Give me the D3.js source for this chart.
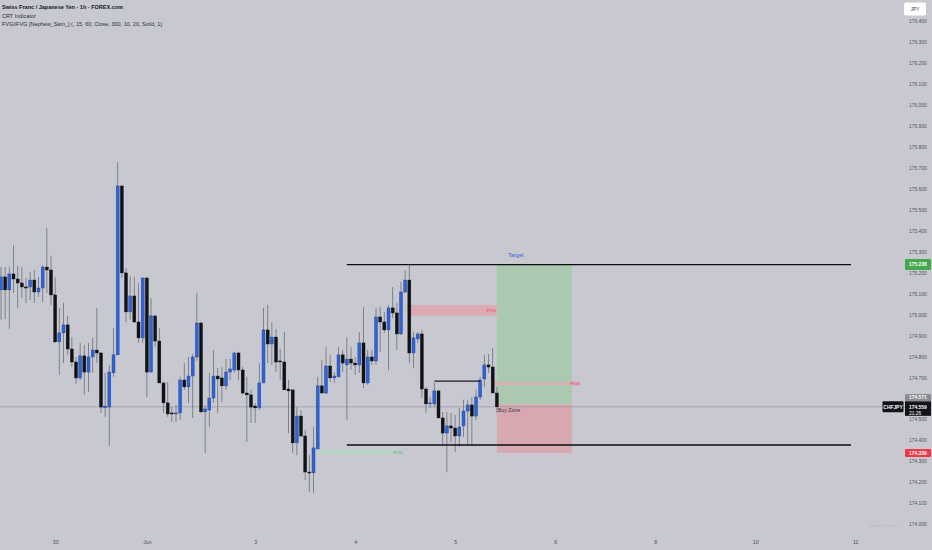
<!DOCTYPE html>
<html><head><meta charset="utf-8">
<script src="https://cdn.jsdelivr.net/npm/d3@7"></script>
<style>html,body{margin:0;padding:0;background:#c8c9d0;overflow:hidden}svg{display:block}</style>
</head><body><svg id="c" width="932" height="550"></svg>
<script>
// ---- data (CHF/JPY 1h) ----
const opens = [175.117,175.179,175.117,175.193,175.169,175.150,175.131,175.131,175.164,175.107,
175.126,175.226,175.212,175.093,174.869,174.912,174.950,174.835,174.773,174.697,
174.802,174.725,174.797,174.830,174.816,174.554,174.558,174.721,174.807,175.613,
175.198,175.012,175.088,174.964,174.888,175.174,174.725,174.993,174.873,174.673,
174.578,174.530,174.525,174.530,174.687,174.654,174.706,174.797,174.959,174.535,
174.544,174.601,174.706,174.697,174.659,174.725,174.735,174.816,174.735,174.625,
174.616,174.563,174.554,174.673,174.926,174.859,174.892,174.778,174.773,174.644,
174.640,174.387,174.515,174.420,174.248,174.244,174.358,174.659,174.625,174.754,
174.697,174.702,174.807,174.759,174.787,174.768,174.759,174.864,174.673,174.797,
174.778,174.988,174.964,174.926,175.031,175.007,174.907,175.107,175.164,174.816,
174.883,174.907,174.644,174.573,174.573,174.635,174.506,174.434,174.468,174.458,
174.420,174.468,174.539,174.568,174.515,174.606,174.692,174.759,174.749,174.625];
const highs = [175.226,175.226,175.226,175.331,175.231,175.226,175.174,175.203,175.212,175.179,
175.236,175.413,175.279,175.179,175.031,175.055,174.993,174.892,174.797,174.864,
174.854,174.864,174.888,175.031,174.821,174.721,174.759,174.935,175.727,175.613,
175.222,175.183,175.179,175.150,175.174,175.174,175.078,174.993,174.935,174.678,
174.678,174.558,174.568,174.702,174.768,174.797,174.811,175.102,174.964,174.568,
174.721,174.830,174.744,174.749,174.787,174.787,174.821,174.821,174.749,174.702,
174.640,174.578,174.768,175.031,175.045,174.964,174.931,174.835,174.916,174.687,
174.640,174.558,174.544,174.449,174.329,174.463,174.702,174.783,174.845,174.807,
174.725,174.845,174.830,174.892,174.845,174.797,174.916,175.036,174.830,174.830,
175.031,175.036,175.012,175.045,175.131,175.055,175.155,175.212,175.236,174.916,
174.916,174.926,174.654,174.606,174.673,174.640,174.535,174.535,174.530,174.520,
174.554,174.592,174.592,174.606,174.640,174.702,174.807,174.811,174.840,174.654];
const lows = [174.974,174.978,174.931,175.102,175.031,175.078,175.055,175.069,175.055,175.083,
175.059,175.102,175.045,174.864,174.711,174.768,174.807,174.749,174.668,174.687,
174.616,174.630,174.721,174.768,174.530,174.511,174.372,174.702,174.807,175.174,
174.964,174.974,174.959,174.864,174.864,174.606,174.725,174.845,174.673,174.530,
174.511,174.487,174.487,174.496,174.640,174.578,174.506,174.778,174.530,174.339,
174.463,174.578,174.530,174.582,174.640,174.687,174.721,174.687,174.616,174.391,
174.482,174.482,174.544,174.673,174.768,174.759,174.725,174.687,174.640,174.434,
174.339,174.329,174.415,174.210,174.153,174.148,174.358,174.625,174.620,174.678,
174.673,174.702,174.725,174.496,174.735,174.711,174.721,174.649,174.664,174.759,
174.759,174.821,174.912,174.735,174.983,174.830,174.902,175.102,174.768,174.744,
174.864,174.601,174.530,174.554,174.558,174.506,174.377,174.248,174.387,174.344,
174.368,174.415,174.377,174.377,174.496,174.592,174.654,174.721,174.625,174.530];
const closes = [175.179,175.117,175.193,175.169,175.150,175.131,175.126,175.164,175.107,175.126,
175.226,175.212,175.093,174.869,174.912,174.950,174.835,174.773,174.697,174.802,
174.725,174.797,174.830,174.816,174.558,174.563,174.725,174.807,175.613,175.198,
175.012,175.088,174.964,174.888,175.174,174.725,174.993,174.873,174.673,174.578,
174.525,174.525,174.530,174.687,174.654,174.706,174.797,174.959,174.535,174.549,
174.601,174.706,174.692,174.659,174.725,174.740,174.816,174.735,174.625,174.616,
174.558,174.554,174.673,174.926,174.859,174.892,174.773,174.773,174.640,174.635,
174.387,174.515,174.420,174.248,174.244,174.363,174.659,174.625,174.754,174.697,
174.706,174.807,174.768,174.787,174.768,174.759,174.864,174.673,174.797,174.778,
174.988,174.964,174.926,175.031,175.007,174.907,175.107,175.164,174.816,174.888,
174.907,174.644,174.573,174.578,174.635,174.506,174.434,174.468,174.458,174.420,
174.463,174.539,174.568,174.515,174.606,174.687,174.759,174.749,174.625,174.559];

const timeTickBars = [13,35,61,85,109,133,157,181,205];
const timeTickLabels = ["30","Jun","3","4","5","6","8","10","11"];
const priceTickValues = [174.0,174.1,174.2,174.3,174.4,174.5,174.7,174.8,174.9,175.0,175.1,175.2,175.3,175.4,175.5,175.6,175.7,175.8,175.9,176.0,176.1,176.2,176.3,176.4];

const crtHigh = 175.238, crtLow = 174.377;
const crtBars = [83, 204];
const crtMid = {from:104, to:115, price:174.682};
const fvgZones = [
  {from:98, to:119, top:175.045, bottom:174.993, kind:"bear"},
  {from:119, to:139, top:174.679, bottom:174.660, kind:"bear"},
  {from:76, to:94, top:174.353, bottom:174.334, kind:"bull"}
];
const trade = {from:119, to:137, entry:174.571, target:175.238, stop:174.339};
const lastPrice = 174.559, countdown = "21:26";
const headerLines = ["Swiss Franc / Japanese Yen \u00b7 1h \u00b7 FOREX.com","CRT Indicator","FVG/iFVG [Nephew_Sam_] (, 15, 60, Close, 300, 10, 20, Solid, 1)"];

// ---- drawing ----
const W = 932, H = 550, plotRight = 893;
const svg = d3.select("#c");
const FONT = "'Liberation Sans', Arial, sans-serif";
svg.append("rect").attr("width",W).attr("height",H).attr("fill","#c8c9d0");

const x = d3.scaleLinear().domain([0,214]).range([1, 892.7]);
const y = d3.scaleLinear().domain([174.0,176.4]).range([524,21]);
const bw = 3.0;

const plot = svg.append("g");

// FVG zones
fvgZones.forEach((z,k)=>{
  const bear = z.kind==="bear";
  plot.append("rect").attr("x",x(z.from)-(bear?2:0)).attr("y",y(z.top))
    .attr("width",x(z.to)-x(z.from)+(bear?2:0)).attr("height",y(z.bottom)-y(z.top))
    .attr("fill",bear?"#dcaab2":"#b3d7c0").attr("opacity",bear?1:0.9);
  if (k!==1) plot.append("text").attr("x",x(z.to)+(bear?-1:0.5)).attr("y",(y(z.top)+y(z.bottom))/2+1.5)
    .attr("text-anchor",bear?"end":"start").attr("font-family",FONT).attr("font-size",4.4)
    .attr("fill",bear?"#e8434f":"#27c46a").text("FVG");
});

// trade boxes
plot.append("rect").attr("x",x(trade.from)).attr("y",y(trade.target))
  .attr("width",x(trade.to)-x(trade.from)).attr("height",y(trade.entry)-y(trade.target)).attr("fill","#abc8b1");
plot.append("rect").attr("x",x(trade.from)).attr("y",y(trade.entry))
  .attr("width",x(trade.to)-x(trade.from)).attr("height",y(trade.stop)-y(trade.entry)).attr("fill","#d8a8b1");
// thin FVG band over green box
{
  const z = fvgZones[1];
  plot.append("rect").attr("x",x(z.from)).attr("y",y(z.top)).attr("width",x(z.to)-x(z.from))
    .attr("height",y(z.bottom)-y(z.top)).attr("fill","#d6b1b6").attr("opacity",0.8);
  plot.append("text").attr("x",x(z.to)-1).attr("y",(y(z.top)+y(z.bottom))/2+1.5)
    .attr("text-anchor","end").attr("font-family",FONT).attr("font-size",4.4).attr("fill","#e8434f").text("FVG");
}

// last price line
plot.append("line").attr("x1",0).attr("x2",plotRight+12).attr("y1",y(lastPrice)).attr("y2",y(lastPrice))
  .attr("stroke","#8e9097").attr("stroke-width",0.6);

// candles
const idx = d3.range(opens.length);
const cg = plot.append("g");
cg.selectAll("line.w").data(idx).join("line").attr("class","w")
  .attr("x1",i=>x(i)).attr("x2",i=>x(i)).attr("y1",i=>y(highs[i])).attr("y2",i=>y(lows[i]))
  .attr("stroke","#6c6f77").attr("stroke-width",0.8);
cg.selectAll("rect.b").data(idx).join("rect").attr("class","b")
  .attr("x",i=>x(i)-bw/2).attr("width",bw)
  .attr("y",i=>y(Math.max(opens[i],closes[i])))
  .attr("height",i=>Math.max(1,Math.abs(y(opens[i])-y(closes[i]))))
  .attr("fill",i=>closes[i]>=opens[i]?"#2f63d8":"#111216")
  .attr("stroke",i=>closes[i]>=opens[i]?"#23408f":"#111216").attr("stroke-width",0.4);

// CRT lines
[crtHigh, crtLow].forEach(p=>{
  plot.append("line").attr("x1",x(crtBars[0])).attr("x2",x(crtBars[1])).attr("y1",y(p)).attr("y2",y(p))
    .attr("stroke","#0d0d10").attr("stroke-width",1.3);
});
plot.append("line").attr("x1",x(crtMid.from)).attr("x2",x(crtMid.to)).attr("y1",y(crtMid.price)).attr("y2",y(crtMid.price))
  .attr("stroke","#1a1b20").attr("stroke-width",1.2);

// texts on trade
plot.append("text").attr("x",x(trade.from)+19).attr("y",y(trade.target)-8).attr("text-anchor","middle")
  .attr("font-family",FONT).attr("font-size",5.6).attr("fill","#2f62e0").text("Target");
plot.append("text").attr("x",x(trade.from)+1).attr("y",y(trade.entry)+7.5)
  .attr("font-family",FONT).attr("font-size",5.2).attr("fill","#3b3440").text("Buy Zone");

// header
headerLines.forEach((t,i)=>{
  svg.append("text").attr("x",2).attr("y",9.2+i*8.5).attr("font-family",FONT)
    .attr("font-size",5.5).attr("font-weight",i===0?700:400).attr("fill",i===0?"#131722":"#2a2d35").text(t);
});

// watermark
svg.append("text").attr("x",883).attr("y",527).attr("text-anchor","middle").attr("font-family",FONT)
  .attr("font-size",4.2).attr("fill","#b7b8bf").text("Nephew_Sam_");

// time axis
const xAxis = d3.axisBottom(x).tickValues(timeTickBars).tickFormat((d,i)=>timeTickLabels[i]).tickSize(0).tickPadding(0);
const gx = svg.append("g").attr("transform","translate(0,544)").call(xAxis);
gx.select(".domain").remove();
gx.selectAll("text").attr("y",0).attr("dy",0).attr("font-family",FONT).attr("font-size",5.2).attr("fill","#4a4d56");

// price axis
const yAxis = d3.axisRight(y).tickValues(priceTickValues).tickFormat(d3.format(".3f")).tickSize(0).tickPadding(0);
const gy = svg.append("g").attr("transform","translate(909,0)").call(yAxis);
gy.select(".domain").remove();
gy.selectAll("text").attr("x",0).attr("dy","0.35em").attr("font-family",FONT).attr("font-size",4.9).attr("fill","#4f525b");

// badges
function badge(cy, label, fill, h){
  const g = svg.append("g");
  g.append("rect").attr("x",905).attr("y",cy-h/2).attr("width",26).attr("height",h).attr("rx",1).attr("fill",fill);
  g.append("text").attr("x",909).attr("y",cy).attr("dy","0.35em").attr("font-family",FONT).attr("font-size",4.9)
    .attr("font-weight",600).attr("fill","#fff").text(label);
}
// JPY
svg.append("rect").attr("x",904).attr("y",2.5).attr("width",22).attr("height",13).attr("rx",2).attr("fill","#ffffff");
svg.append("text").attr("x",915).attr("y",9).attr("dy","0.35em").attr("text-anchor","middle").attr("font-family",FONT)
  .attr("font-size",5).attr("fill","#3a3d45").text("JPY");

const f3 = d3.format(".3f");
badge(y(trade.target), f3(trade.target), "#45a84c", 11);
badge(y(trade.stop), f3(trade.stop), "#f23645", 8);
// entry badge is pushed up above the last-price badge (as the reference shows)
const lpY = y(lastPrice);
badge(lpY-9.3, f3(trade.entry), "#8a8c93", 7.2);
{
  svg.append("rect").attr("x",905).attr("y",lpY-5.5).attr("width",26).attr("height",14.5).attr("fill","#121318");
  svg.append("text").attr("x",909).attr("y",lpY).attr("dy","0.35em").attr("font-family",FONT).attr("font-size",4.9)
    .attr("font-weight",600).attr("fill","#fff").text(f3(lastPrice));
  svg.append("text").attr("x",909).attr("y",lpY+6).attr("dy","0.35em").attr("font-family",FONT).attr("font-size",4.9)
    .attr("fill","#fff").text(countdown);
  svg.append("rect").attr("x",882.5).attr("y",lpY-5.5).attr("width",21).attr("height",11).attr("rx",1).attr("fill","#121318");
  svg.append("text").attr("x",893).attr("y",lpY).attr("dy","0.35em").attr("text-anchor","middle").attr("font-family",FONT)
    .attr("font-size",4.9).attr("font-weight",700).attr("fill","#fff").text("CHFJPY");
}
</script></body></html>
